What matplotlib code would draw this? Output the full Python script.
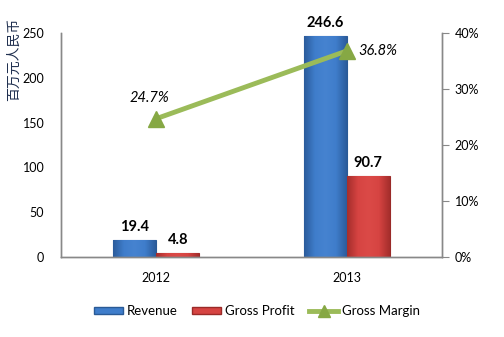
import matplotlib
matplotlib.use("Agg")
import matplotlib.pyplot as plt
import numpy as np
from matplotlib.colors import LinearSegmentedColormap
from matplotlib.lines import Line2D
from matplotlib.patches import Patch

categories = ["2012", "2013"]
revenue = [19.4, 246.6]
gross_profit = [4.8, 90.7]
gross_margin = [24.7, 36.8]
left_ticks = [0, 50, 100, 150, 200, 250]
right_ticks = [0, 10, 20, 30, 40]

plt.rcParams['font.family'] = ['Lato', 'Noto Sans CJK SC', 'DejaVu Sans']

fig = plt.figure(figsize=(5.04, 3.37), dpi=100)
ax = fig.add_axes([61/504, 1-257/337, 381/504, 224/337])
ax2 = ax.twinx()

x = np.arange(len(categories))
w = 0.225
blue_cmap = LinearSegmentedColormap.from_list("b", ["#2B5C9C", "#3F7DCB", "#4683D0", "#3F7DCB", "#2B5C9C"])
red_cmap = LinearSegmentedColormap.from_list("r", ["#A52E2C", "#D64442", "#DB4A47", "#D64442", "#A52E2C"])

b1 = ax.bar(x - w/2, revenue, w, color="#3F7DCB", edgecolor="#2A5A96", linewidth=0.8, zorder=2)
b2 = ax.bar(x + w/2, gross_profit, w, color="#D64442", edgecolor="#9A2A28", linewidth=0.8, zorder=2)

grad = np.linspace(0, 1, 64).reshape(1, -1)
for bars, cmap in ((b1, blue_cmap), (b2, red_cmap)):
    for r in bars:
        x0, y0 = r.get_x(), r.get_y()
        im = ax.imshow(grad, cmap=cmap, aspect='auto',
                       extent=[x0, x0 + r.get_width(), y0, y0 + r.get_height()],
                       zorder=2.5, interpolation='bilinear')
        im.set_clip_path(r)

ax.set_xlim(-0.5, 1.5)
ax.set_ylim(0, 250)
ax.set_yticks(left_ticks)
ax.set_xticks(x)
ax.set_xticklabels(categories)
ax.tick_params(axis='x', length=0, pad=11, labelsize=9)
ax.tick_params(axis='y', length=0, pad=12, labelsize=9)

for r, v in zip(b1, revenue):
    ax.annotate(f"{v:.1f}", (r.get_x() + r.get_width()/2, v), xytext=(0, 4),
                textcoords='offset points', ha='center', va='bottom',
                fontsize=10.5, fontweight='bold', zorder=5)
for r, v in zip(b2, gross_profit):
    ax.annotate(f"{v:.1f}", (r.get_x() + r.get_width()/2, v), xytext=(0, 4),
                textcoords='offset points', ha='center', va='bottom',
                fontsize=10.5, fontweight='bold', zorder=5)

ax2.plot(x, gross_margin, color="#9BBB59", lw=3.5, marker='^', markersize=11,
         markerfacecolor="#86A844", markeredgecolor="#86A844", zorder=4)
ax2.set_ylim(0, 40)
ax2.set_yticks(right_ticks)
ax2.set_yticklabels([f"{t}%" for t in right_ticks])
ax2.tick_params(axis='y', length=5, width=0.8, color="#888888", pad=4, labelsize=9)
ax2.annotate(f"{gross_margin[0]}%", (x[0], gross_margin[0]), xytext=(-5, 10),
             textcoords='offset points', ha='center', va='bottom',
             fontsize=10.5, style='italic')
ax2.annotate(f"{gross_margin[1]}%", (x[1], gross_margin[1]), xytext=(8, 0),
             textcoords='offset points', ha='left', va='center',
             fontsize=10.5, style='italic')

for a in (ax, ax2):
    a.spines['top'].set_visible(False)
    for s in ('left', 'right', 'bottom'):
        a.spines[s].set_color("#888888")
        a.spines[s].set_linewidth(1)

fig.text(14/504, 1-18/337, "百万元人民币", rotation=90, ha='center', va='top',
         fontsize=10, color="#1F2F4F", family=['Noto Sans CJK SC', 'DejaVu Sans'])

handles = [Patch(facecolor="#3F7DCB", edgecolor="#2A5A96"),
           Patch(facecolor="#D64442", edgecolor="#9A2A28"),
           Line2D([0], [0], color="#9BBB59", lw=3.5, marker='^', markersize=9,
                  markerfacecolor="#86A844", markeredgecolor="#86A844")]
fig.legend(handles, ["Revenue", "Gross Profit", "Gross Margin"], loc='center',
           bbox_to_anchor=(257/504, 1-311/337), ncol=3, frameon=False,
           fontsize=9.5, handlelength=2.2, handleheight=0.5, columnspacing=1.1,
           handletextpad=0.3)

fig.savefig("out.png", dpi=100)
